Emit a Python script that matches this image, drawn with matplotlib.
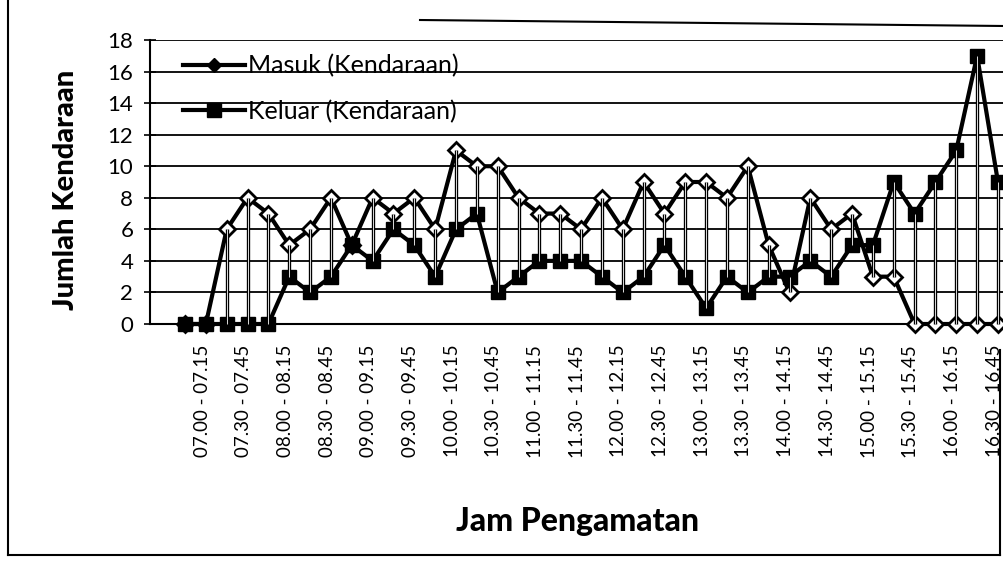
import matplotlib.pyplot as plt
import matplotlib.transforms as mtransforms
from matplotlib.lines import Line2D

# jam pengamatan (per 15 menit)
jam = ['07.00 - 07.15', '07.15 - 07.30', '07.30 - 07.45', '07.45 - 08.00',
       '08.00 - 08.15', '08.15 - 08.30', '08.30 - 08.45', '08.45 - 09.00',
       '09.00 - 09.15', '09.15 - 09.30', '09.30 - 09.45', '09.45 - 10.00',
       '10.00 - 10.15', '10.15 - 10.30', '10.30 - 10.45', '10.45 - 11.00',
       '11.00 - 11.15', '11.15 - 11.30', '11.30 - 11.45', '11.45 - 12.00',
       '12.00 - 12.15', '12.15 - 12.30', '12.30 - 12.45', '12.45 - 13.00',
       '13.00 - 13.15', '13.15 - 13.30', '13.30 - 13.45', '13.45 - 14.00',
       '14.00 - 14.15', '14.15 - 14.30', '14.30 - 14.45', '14.45 - 15.00',
       '15.00 - 15.15', '15.15 - 15.30', '15.30 - 15.45', '15.45 - 16.00',
       '16.00 - 16.15', '16.15 - 16.30', '16.30 - 16.45', '16.45 - 17.00']

masuk = [0, 0, 6, 8, 7, 5, 6, 8, 5, 8, 7, 8, 6, 11, 10, 10, 8, 7, 7, 6,
         8, 6, 9, 7, 9, 9, 8, 10, 5, 2, 8, 6, 7, 3, 3, 0, 0, 0, 0, 0]
keluar = [0, 0, 0, 0, 0, 3, 2, 3, 5, 4, 6, 5, 3, 6, 7, 2, 3, 4, 4, 4,
          3, 2, 3, 5, 3, 1, 3, 2, 3, 3, 4, 3, 5, 5, 9, 7, 9, 11, 17, 9]

x = list(range(len(jam)))

fig = plt.figure(figsize=(10.04, 5.74), dpi=100)
ax = fig.add_axes([150/1004, 1 - 324/574, (1004 - 150)/1004, (324 - 40)/574])

# garis high-low antara masuk dan keluar
for i in x:
    ax.plot([i, i], [masuk[i], keluar[i]], color='black', lw=2.4, zorder=5,
            clip_on=False, solid_capstyle='butt')
    ax.plot([i, i], [masuk[i], keluar[i]], color='white', lw=0.6, zorder=6,
            clip_on=False, solid_capstyle='butt')

ax.plot(x, masuk, color='black', lw=3, marker='D', ms=8, mfc='white',
        mec='black', mew=2, zorder=3, clip_on=False, label='Masuk (Kendaraan)')
ax.plot(x, keluar, color='black', lw=3, marker='s', ms=10, mfc='black',
        mec='black', zorder=4, clip_on=False, label='Keluar (Kendaraan)')

ax.set_xlim(-1.68, 39.29)
ax.set_ylim(0, 18)
ax.set_yticks(range(0, 19, 2))
ax.yaxis.grid(True, color='black', lw=1.3)
ax.set_axisbelow(True)

for s in ['top', 'right']:
    ax.spines[s].set_visible(False)
ax.spines['left'].set_linewidth(1.5)
ax.spines['bottom'].set_linewidth(1.5)

ax.tick_params(axis='y', direction='inout', length=8, width=1.2, labelsize=16, pad=8)
for t in ax.get_yticklabels():
    t.set_fontfamily('Lato')

ax.set_xticks(x[::2])
ax.set_xticklabels(jam[::2], rotation=90, fontsize=13.5, fontfamily='Lato')
ax.tick_params(axis='x', length=0, pad=15)
shift = mtransforms.ScaledTranslation(0.17, 0, fig.dpi_scale_trans)
for t in ax.get_xticklabels():
    t.set_transform(t.get_transform() + shift)

fig.text(66/1004, 1 - 190/574, 'Jumlah Kendaraan', rotation=90, ha='center',
         va='center', fontsize=21, fontweight='black', fontfamily='Lato')
fig.text(578/1004, 1 - 522/574, 'Jam Pengamatan', ha='center', va='center',
         fontsize=23, fontweight='black', fontfamily='Lato')

handles = [Line2D([0], [0], color='black', lw=3, marker='D', ms=7, mfc='black', mec='black'),
           Line2D([0], [0], color='black', lw=3, marker='s', ms=10, mfc='black', mec='black')]
ax.legend(handles, ['Masuk (Kendaraan)', 'Keluar (Kendaraan)'], loc='upper left',
          bbox_to_anchor=(183/1004, 1 - 54/574), bbox_transform=fig.transFigure,
          frameon=False, handlelength=2.5, handletextpad=0.1,
          labelspacing=0.9, borderpad=0, borderaxespad=0, prop={'family': 'Lato', 'size': 18})

# bingkai grafik
fig.add_artist(Line2D([8/1004, 8/1004], [1 - 555/574, 1.0], color='black', lw=1.5))
fig.add_artist(Line2D([8/1004, 1000/1004], [1 - 555/574, 1 - 555/574], color='black', lw=1.5))
fig.add_artist(Line2D([1000/1004, 1000/1004], [1 - 555/574, 1 - 350/574], color='black', lw=1.5))
fig.add_artist(Line2D([420/1004, 1.0], [1 - 20/574, 1 - 26/574], color='black', lw=1.5))

fig.savefig('out.png', dpi=100, facecolor='white')
